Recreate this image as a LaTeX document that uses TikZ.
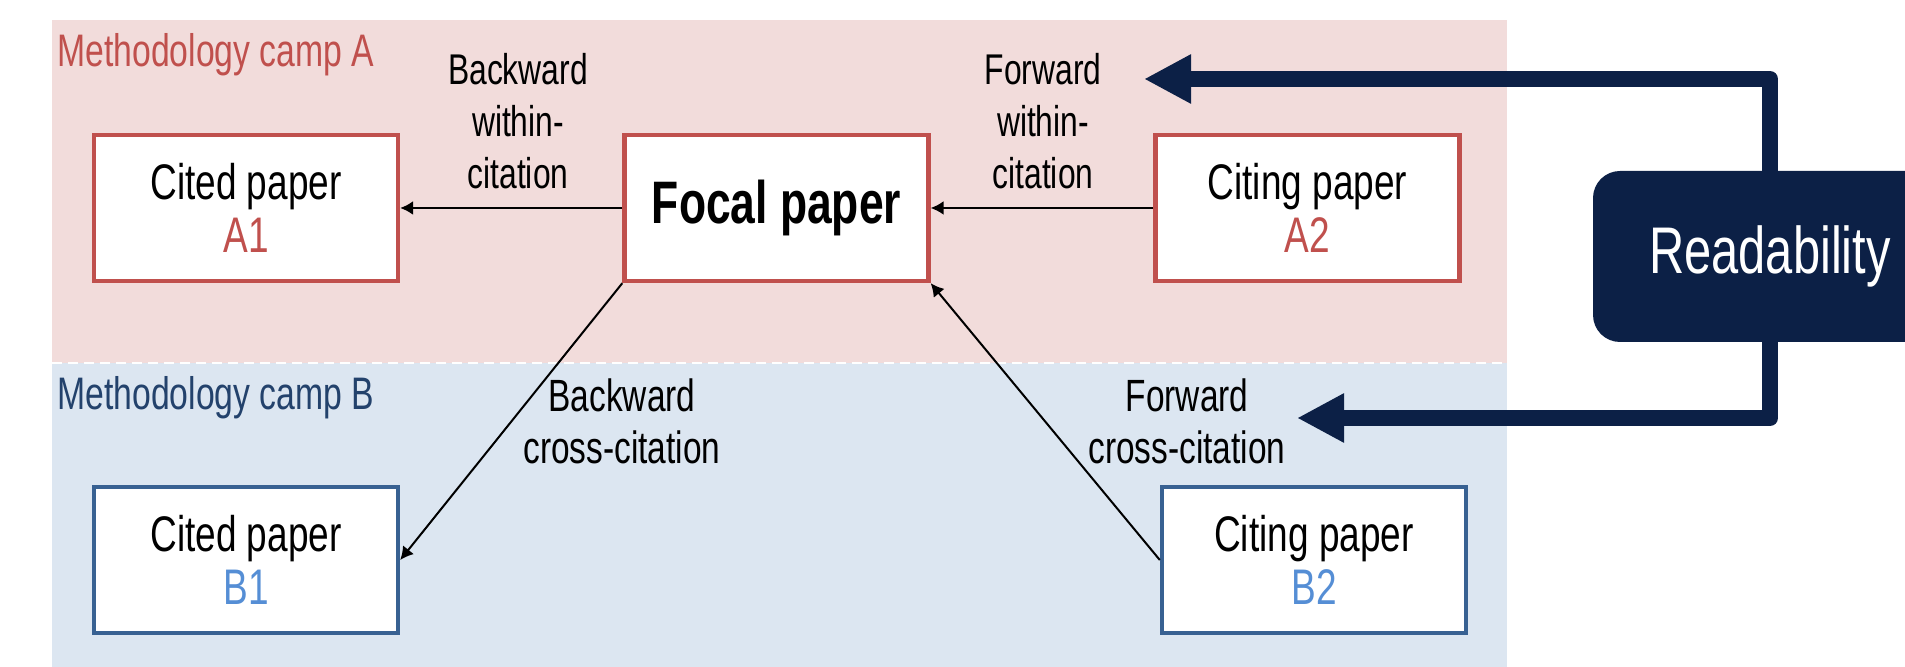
\documentclass[tikz,border=0pt]{standalone}
\usepackage{fontspec}
\setmainfont{Liberation Sans}[FakeStretch=0.74]
\usetikzlibrary{arrows.meta,positioning}
\definecolor{CampRed}{RGB}{192,80,77}
\definecolor{CampRedBg}{RGB}{242,220,219}
\definecolor{CampBlue}{RGB}{56,97,146}
\definecolor{CampBlueBg}{RGB}{220,230,241}
\definecolor{CampBlueLight}{RGB}{85,142,213}
\definecolor{CampBlueText}{RGB}{35,66,108}
\definecolor{CampNavy}{RGB}{12,32,70}
\tikzset{
  cc/paper/.style={
    draw,
    line width=2.2pt,
    fill=white,
    align=center,
    inner sep=0pt,
    minimum width=152pt,
    minimum height=73pt,
    font=\fontsize{25}{26.5}\selectfont
  },
  cc/redbox/.style={cc/paper, draw=CampRed},
  cc/bluebox/.style={cc/paper, draw=CampBlue},
  cc/focal/.style={cc/paper, draw=CampRed, font=\fontsize{30}{32}\selectfont\bfseries},
  cc/read/.style={
    fill=CampNavy,
    text=white,
    rounded corners=13.5pt,
    minimum width=177pt,
    minimum height=85.5pt,
    font=\fontsize{33}{36}\selectfont
  },
  cc/arrow/.style={-{Latex[length=6.5pt,width=7pt]}, line width=1pt, draw=black},
  cc/bigarrow/.style={-{Triangle[length=23.5pt,width=23pt]}, line width=8pt, line join=round, draw=CampNavy},
  cc/label/.style={align=center, inner sep=0pt, font=\fontsize{21.5}{26}\selectfont},
  cc/crosslabel/.style={cc/label, font=\fontsize{22.6}{26}\selectfont},
  cc/camp/.style={anchor=base west, inner sep=0pt, font=\fontsize{22.8}{24}\selectfont}
}
\begin{document}
\begin{tikzpicture}[x=0.5pt,y=-0.5pt]
  \useasboundingbox (0,0) rectangle (1905,667);
  % camp backgrounds
  \fill[CampRedBg] (52,20) rectangle (1507,363);
  \fill[CampBlueBg] (52,363) rectangle (1507,667);
  \draw[white, line width=1pt, dash pattern=on 5pt off 3pt] (52,363) -- (1507,363);
  \node[cc/camp, text=CampRed] (campA) at (57,67) {Methodology camp A};
  \node[cc/camp, text=CampBlueText] (campB) at (57,410) {Methodology camp B};

  % papers
  \node[cc/redbox] (citedA) at (246,208) {Cited paper\\\textcolor{CampRed}{A1}};
  \node[cc/focal] (focal) at (776.5,208) {Focal paper};
  \node[cc/redbox] (citingA) at (1307.5,208) {Citing paper\\\textcolor{CampRed}{A2}};
  \node[cc/bluebox] (citedB) at (246,560) {Cited paper\\\textcolor{CampBlueLight}{B1}};
  \node[cc/bluebox] (citingB) at (1314,560) {Citing paper\\\textcolor{CampBlueLight}{B2}};

  % citations
  \draw[cc/arrow] (focal.west) -- (citedA.east);
  \draw[cc/arrow] (citingA.west) -- (focal.east);
  \draw[cc/arrow] (focal.south west) -- (citedB.east);
  \draw[cc/arrow] (citingB.west) -- (focal.south east);
  \node[cc/label] (bwithin) at (518,121) {Backward\\within-\\citation};
  \node[cc/label] (fwithin) at (1043,121) {Forward\\within-\\citation};
  \node[cc/crosslabel] (bcross) at (622,421) {Backward\\cross-citation};
  \node[cc/crosslabel] (fcross) at (1187,421) {Forward\\cross-citation};

  % readability
  \coordinate (tipwithin) at (1144,79);
  \coordinate (tipcross) at (1297,418);
  \draw[cc/bigarrow] (1770,256.5) |- (tipwithin);
  \draw[cc/bigarrow] (1770,256.5) |- (tipcross);
  \node[cc/read] (read) at (1770,256.5) {Readability};
\end{tikzpicture}
\end{document}
